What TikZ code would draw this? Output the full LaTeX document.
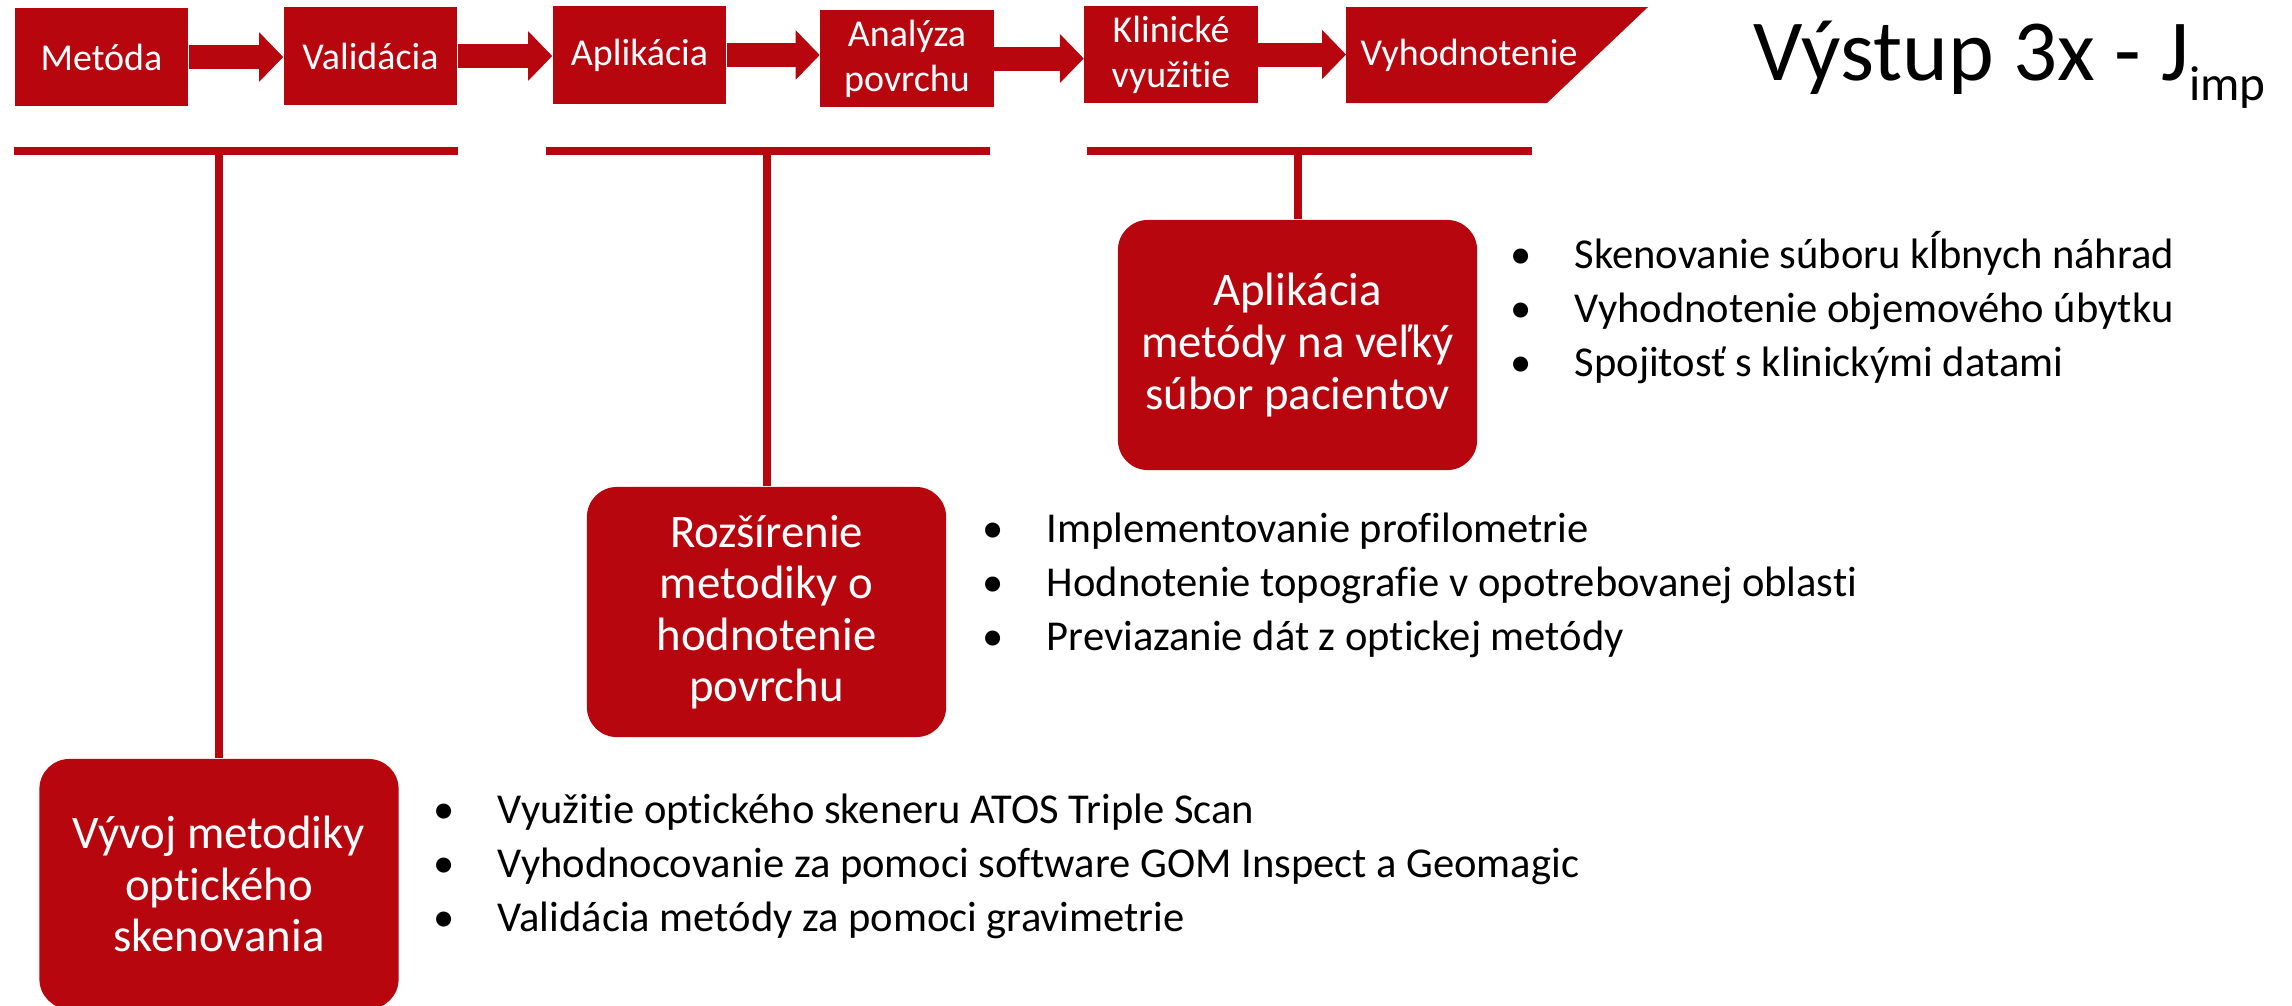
\documentclass[tikz,border=0pt]{standalone}
\usepackage{fontspec}
\setmainfont{Carlito}[Ligatures={NoCommon}]
\definecolor{slidered}{RGB}{184,6,15}
\usetikzlibrary{arrows.meta, calc, positioning}

\newcommand{\itm}{\makebox[0.2cm]{•}\hspace{0.44cm}}

\tikzset{
	stepbox/.style={fill=slidered, text=white, inner sep=0pt, minimum width=1.73cm, minimum height=0.97cm, align=center, font=\fontsize{10.8pt}{12.8pt}\selectfont},
	phasebox/.style={fill=slidered, text=white, rounded corners=0.3cm, inner sep=0pt, minimum width=3.59cm, minimum height=2.5cm, align=center, font=\fontsize{13.3pt}{14.65pt}\selectfont},
	flow/.style={slidered, line width=0.24cm, -{Triangle[length=0.24cm, width=0.48cm]}},
	bar/.style={slidered, line width=0.08cm},
	points/.style={anchor=base west, inner sep=0pt, align=left, font=\fontsize{12.1pt}{15.3pt}\selectfont},
}

\begin{document}
\begin{tikzpicture}[x=0.01cm, y=-0.01cm]
			\useasboundingbox (0,0) rectangle (2292,1005);
			
			% top row of steps
			\node[stepbox] (metoda) at (101.5,57) {Metóda};
			\node[stepbox] (validacia) at (370.5,56) {Validácia};
			\node[stepbox] (aplikacia) at (639.5,55) {Aplikácia};
			\node[stepbox] (analyza) at (907,58.5) {Analýza\\povrchu};
			\node[stepbox] (klinicke) at (1171,54.5) {Klinické\\využitie};
			\fill[slidered] (1346,7) -- (1648,7) -- (1547,103) -- (1346,103) -- cycle;
			\node[anchor=west, inner sep=0pt, text=white, font=\fontsize{10.8pt}{12.8pt}\selectfont] (vyhodnotenie) at (1360,55) {Vyhodnotenie};
			\coordinate (vyhodin) at (1346,55);
			
			\draw[flow] (metoda.east) -- (metoda.east -| validacia.west);
			\draw[flow] (validacia.east) -- (validacia.east -| aplikacia.west);
			\draw[flow] (aplikacia.east) -- (aplikacia.east -| analyza.west);
			\draw[flow] (analyza.east) -- (analyza.east -| klinicke.west);
			\draw[flow] (klinicke.east) -- (klinicke.east -| vyhodin);
			
			\node[anchor=base west, inner sep=0pt, font=\fontsize{24.75pt}{28pt}\selectfont] (vystup) at (1753,80) {Výstup 3x - J\raisebox{-0.2cm}{\fontsize{14pt}{16pt}\selectfont imp}};
			
			% bars under the steps
			\coordinate (bar1a) at (14,151);
			\coordinate (bar1b) at (458,151);
			\coordinate (bar2a) at (546,151);
			\coordinate (bar2b) at (990,151);
			\coordinate (bar3a) at (1087,151);
			\coordinate (bar3b) at (1532,151);
			\draw[bar] (bar1a) -- (bar1b);
			\draw[bar] (bar2a) -- (bar2b);
			\draw[bar] (bar3a) -- (bar3b);
			
			% phases
			\node[phasebox] (vyvoj) at (219,884) {Vývoj metodiky\\optického\\skenovania};
			\node[phasebox] (rozsirenie) at (766.5,612) {Rozšírenie\\metodiky o\\hodnotenie\\povrchu};
			\node[phasebox] (uplatnenie) at (1297.5,345) {Aplikácia\\metódy na veľký\\súbor pacientov};
			
			\draw[bar] (bar1a -| vyvoj.north) -- (vyvoj.north);
			\draw[bar] (bar2a -| rozsirenie.north) -- (rozsirenie.north);
			\draw[bar] (bar3a -| uplatnenie.north) -- (uplatnenie.north);
			
			\node[points] (vyvojbody) at (433,931) {\itm Využitie optického skeneru ATOS Triple Scan\\\itm Vyhodnocovanie za pomoci software GOM Inspect a Geomagic\\\itm Validácia metódy za pomoci gravimetrie};
			\node[points] (rozsireniebody) at (982,650) {\itm Implementovanie profilometrie\\\itm Hodnotenie topografie v opotrebovanej oblasti\\\itm Previazanie dát z optickej metódy};
			\node[points] (uplatneniebody) at (1510,376) {\itm Skenovanie súboru kĺbnych náhrad\\\itm Vyhodnotenie objemového úbytku\\\itm Spojitosť s klinickými datami};
		\end{tikzpicture}
\end{document}
